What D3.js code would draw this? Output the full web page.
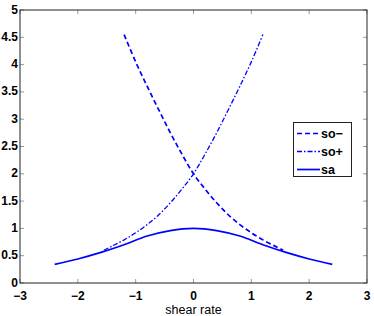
<!DOCTYPE html>
<html>
<head>
<meta charset="utf-8">
<script src="https://cdn.jsdelivr.net/npm/d3@7"></script>
<style>
  body { margin: 0; background: #fff; }
  svg { display: block; font-family: "Liberation Sans", Arial, sans-serif; }
</style>
</head>
<body>
<svg id="chart" width="374" height="316"></svg>
<script>
// values
const soMinusX = [-1.2, -1.0, -0.8, -0.6, -0.4, -0.2, 0, 0.2, 0.4, 0.6, 0.8, 1.0, 1.2, 1.4, 1.55];
const soMinusY = [4.55, 4.05, 3.6, 3.17, 2.75, 2.36, 2.0, 1.72, 1.47, 1.25, 1.07, 0.92, 0.79, 0.68, 0.6];
const soPlusX = [-1.55, -1.4, -1.2, -1.0, -0.8, -0.6, -0.4, -0.2, 0, 0.2, 0.4, 0.6, 0.8, 1.0, 1.2];
const soPlusY = [0.6, 0.68, 0.79, 0.92, 1.07, 1.25, 1.47, 1.72, 2.0, 2.36, 2.75, 3.17, 3.6, 4.05, 4.55];
const saX = [-2.4, -2.0, -1.6, -1.2, -0.8, -0.4, 0, 0.4, 0.8, 1.2, 1.6, 2.0, 2.4];
const saY = [0.34, 0.44, 0.56, 0.70, 0.86, 0.96, 1.0, 0.96, 0.86, 0.70, 0.56, 0.44, 0.34];
const xTicks = [-3, -2, -1, 0, 1, 2, 3];
const yTicks = [0, 0.5, 1, 1.5, 2, 2.5, 3, 3.5, 4, 4.5, 5];
const seriesNames = ["so\u2212", "so+", "sa"];

const svg = d3.select("#chart");
const plotL = 20, plotR = 367, plotT = 10, plotB = 283;

const x = d3.scaleLinear().domain([-3, 3]).range([plotL, plotR]);
const y = d3.scaleLinear().domain([0, 5]).range([plotB, plotT]);

// ticks (inward, all four sides)
const tickLen = 4;
const g = svg.append("g");
xTicks.forEach(t => {
  g.append("line").attr("x1", x(t)).attr("x2", x(t)).attr("y1", plotB).attr("y2", plotB - tickLen)
    .attr("stroke", "#999").attr("stroke-width", 1);
  g.append("line").attr("x1", x(t)).attr("x2", x(t)).attr("y1", plotT).attr("y2", plotT + tickLen)
    .attr("stroke", "#999").attr("stroke-width", 1);
  g.append("text").attr("x", x(t)).attr("y", plotB + 17)
    .attr("text-anchor", "middle").attr("font-size", 12).attr("font-weight", "bold")
    .text(t < 0 ? "\u2212" + Math.abs(t) : t);
});
yTicks.forEach(t => {
  g.append("line").attr("x1", plotL).attr("x2", plotL + tickLen).attr("y1", y(t)).attr("y2", y(t))
    .attr("stroke", "#999").attr("stroke-width", 1);
  g.append("line").attr("x1", plotR).attr("x2", plotR - tickLen).attr("y1", y(t)).attr("y2", y(t))
    .attr("stroke", "#999").attr("stroke-width", 1);
  g.append("text").attr("x", plotL - 2).attr("y", y(t) + 3.5)
    .attr("text-anchor", "end").attr("font-size", 12).attr("font-weight", "bold")
    .text(t);
});

// axes box
svg.append("rect").attr("x", plotL).attr("y", plotT).attr("width", plotR - plotL).attr("height", plotB - plotT)
  .attr("fill", "none").attr("stroke", "#222").attr("stroke-width", 1);

svg.append("text").attr("x", x(0)).attr("y", 314).attr("text-anchor", "middle")
  .attr("font-size", 12.5).text("shear rate");

const line = d3.line().x(d => x(d[0])).y(d => y(d[1])).curve(d3.curveCatmullRom);
const dashes = ["5,3", "5,2,1.5,2", null];
const data = [
  d3.zip(soMinusX, soMinusY),
  d3.zip(soPlusX, soPlusY),
  d3.zip(saX, saY)
];

data.forEach((pts, i) => {
  svg.append("path").datum(pts).attr("d", line)
    .attr("fill", "none").attr("stroke", "#0000ff").attr("stroke-width", i === 1 ? 1.3 : 1.7)
    .attr("stroke-dasharray", dashes[i]);
});

// legend
const lg = svg.append("g");
lg.append("rect").attr("x", 293.5).attr("y", 122.5).attr("width", 58).attr("height", 54)
  .attr("fill", "#fff").attr("stroke", "#222").attr("stroke-width", 1);
seriesNames.forEach((name, i) => {
  const ly = 133.5 + i * 18;
  lg.append("line").attr("x1", 297).attr("x2", 320).attr("y1", ly).attr("y2", ly)
    .attr("stroke", "#0000ff").attr("stroke-width", i === 1 ? 1.3 : 1.7)
    .attr("stroke-dasharray", dashes[i]);
  lg.append("text").attr("x", 321).attr("y", ly + 4.5).attr("font-size", 12.5)
    .attr("font-weight", "bold").text(name);
});
</script>
</body>
</html>
